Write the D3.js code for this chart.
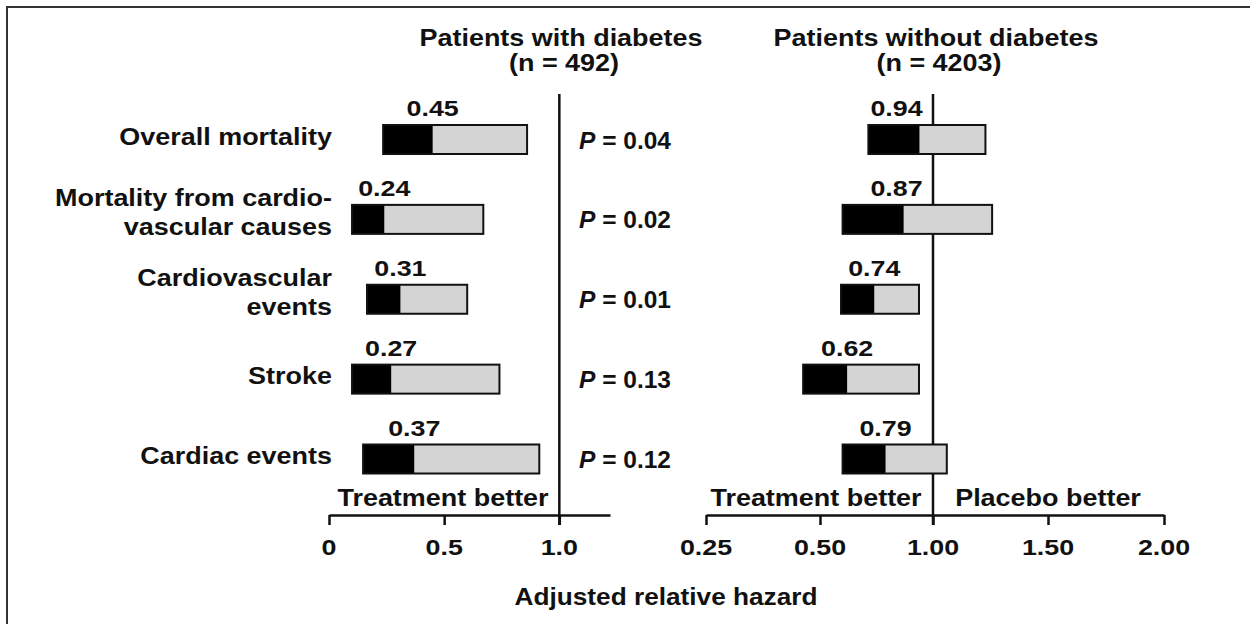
<!DOCTYPE html>
<html>
<head>
<meta charset="utf-8">
<script src="https://cdn.jsdelivr.net/npm/d3@7"></script>
<style>
  html, body { margin: 0; padding: 0; background: #fff; }
  svg text { font-family: "Liberation Sans", Arial, Helvetica, sans-serif; font-weight: bold; fill: #111; }
</style>
</head>
<body>
<svg id="chart" width="1250" height="624"></svg>
<script>
// ---- data ----
const categories = [
  ["Overall mortality"],
  ["Mortality from cardio-", "vascular causes"],
  ["Cardiovascular", "events"],
  ["Stroke"],
  ["Cardiac events"]
];
const diabetesHR   = [0.45, 0.24, 0.31, 0.27, 0.37];
const diabetesLow  = [0.235, 0.10, 0.165, 0.10, 0.148];
const diabetesHigh = [0.86, 0.67, 0.60, 0.74, 0.913];
const noDiabetesHR   = [0.94, 0.87, 0.74, 0.62, 0.79];
const noDiabetesLow  = [0.714, 0.60, 0.593, 0.463, 0.60];
const noDiabetesHigh = [1.228, 1.257, 0.938, 0.938, 1.06];
const pValues = ["0.04", "0.02", "0.01", "0.13", "0.12"];
const leftTicks = [0, 0.5, 1.0];
const leftTickLabels = ["0", "0.5", "1.0"];
const rightTicks = [0.25, 0.5, 1.0, 1.5, 2.0];
const rightTickLabels = ["0.25", "0.50", "1.00", "1.50", "2.00"];
const titles = [["Patients with diabetes", "(n = 492)"], ["Patients without diabetes", "(n = 4203)"]];

// ---- layout ----
const BIG = { fs: 24.5, sx: 1.10 };   // titles, category labels, "better" labels
const NUM = { fs: 22, sx: 1.22 };     // numbers (value labels, ticks)
const AX  = { fs: 24.5, sx: 1.07 };   // axis title
const svg = d3.select("#chart");
const axisY = 515, lineTop = 94, tickLen = 10, barH = 29;

const xL = d3.scaleLinear().domain([0, 1.22]).range([329, 610]);
const xR = d3.scaleLinear().domain([0.25, 0.5, 1.0, 1.5, 2.0]).range([706, 820, 933, 1048, 1164]);
const y = d3.scalePoint().domain(d3.range(categories.length)).range([139.5, 459]);

function txt(x, yy, s, anchor, st) {
  st = st || BIG;
  return svg.append("text")
    .attr("transform", `translate(${x},${yy}) scale(${st.sx},1)`)
    .attr("text-anchor", anchor || "middle")
    .attr("font-size", st.fs)
    .text(s);
}

// frame
svg.append("path").attr("d", "M7,624 V7 H1250").attr("fill", "none").attr("stroke", "#333").attr("stroke-width", 2);

// titles
const titleX = [561, 936];
titles.forEach((t, i) => {
  txt(titleX[i], 46, t[0]);
  txt(titleX[i] + 3, 71, t[1]);
});

// category labels
categories.forEach((lines, i) => {
  const cy = y(i);
  if (lines.length === 1) txt(332, cy + 5, lines[0], "end");
  else { txt(332, cy - 13, lines[0], "end"); txt(332, cy + 16, lines[1], "end"); }
});

// axes
function drawAxis(scale, ticks, labels) {
  const ax = d3.axisBottom(scale).tickValues(ticks).tickSizeInner(tickLen).tickSizeOuter(0)
    .tickFormat((d, i) => labels[i]);
  const g = svg.append("g").attr("transform", `translate(0,${axisY})`).call(ax);
  g.select(".domain").attr("stroke", "#111").attr("stroke-width", 2.5);
  g.selectAll(".tick line").attr("stroke", "#111").attr("stroke-width", 2.5);
  g.selectAll(".tick text").remove();
  ticks.forEach((t, i) => txt(scale(t), 555, labels[i], "middle", NUM));
}
drawAxis(xL, leftTicks, leftTickLabels);
drawAxis(xR, rightTicks, rightTickLabels);

// reference lines at 1.0
[xL(1), xR(1)].forEach(x => {
  svg.append("line").attr("x1", x).attr("x2", x).attr("y1", lineTop).attr("y2", axisY + tickLen)
    .attr("stroke", "#111").attr("stroke-width", 2.5);
});

// bars
function drawBars(scale, hr, lo, hi, refX) {
  hr.forEach((v, i) => {
    const top = y(i) - barH / 2;
    svg.append("rect").attr("x", scale(lo[i])).attr("y", top)
      .attr("width", scale(hi[i]) - scale(lo[i])).attr("height", barH)
      .attr("fill", "#d4d4d4").attr("stroke", "none");
    svg.append("rect").attr("x", scale(lo[i])).attr("y", top)
      .attr("width", scale(v) - scale(lo[i])).attr("height", barH)
      .attr("fill", "#000");
    svg.append("rect").attr("x", scale(lo[i])).attr("y", top)
      .attr("width", scale(hi[i]) - scale(lo[i])).attr("height", barH)
      .attr("fill", "none").attr("stroke", "#111").attr("stroke-width", 2);
    const label = v.toFixed(2);
    let cx = scale(v);
    const halfW = 26.5;
    if (refX && cx + halfW > refX - 10 && cx < refX) cx = refX - 10 - halfW;
    txt(cx, top - 9, label, "middle", NUM);
  });
}
drawBars(xL, diabetesHR, diabetesLow, diabetesHigh, null);
drawBars(xR, noDiabetesHR, noDiabetesLow, noDiabetesHigh, xR(1));

// p values
pValues.forEach((p, i) => {
  const t = svg.append("text")
    .attr("transform", `translate(625,${y(i) + 9}) scale(1.02,1)`)
    .attr("text-anchor", "middle").attr("font-size", 24);
  t.append("tspan").attr("font-style", "italic").text("P");
  t.append("tspan").text(" = " + p);
});

// better labels
txt(443, 506, "Treatment better");
txt(816, 506, "Treatment better");
txt(1048, 506, "Placebo better");

// axis title
txt(666, 605, "Adjusted relative hazard", "middle", AX);
</script>
</body>
</html>
